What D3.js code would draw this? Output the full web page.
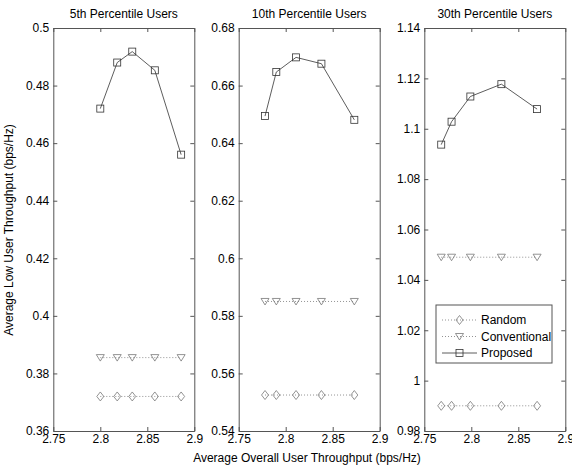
<!DOCTYPE html>
<html><head><meta charset="utf-8">
<script src="https://d3js.org/d3.v7.min.js"></script>
<style>body{margin:0;background:#fff}svg{display:block}text{font-family:"Liberation Sans",Arial,sans-serif}</style>
</head><body><svg id="c" width="572" height="469"></svg>
<script>
const titles = ["5th Percentile Users","10th Percentile Users","30th Percentile Users"];
const xTicks = [2.75,2.8,2.85,2.9];
const xTickLabels = ["2.75","2.8","2.85","2.9"];
const yDomains = [[0.36,0.5],[0.54,0.68],[0.98,1.14]];
const yTicks = [
  [0.36,0.38,0.4,0.42,0.44,0.46,0.48,0.5],
  [0.54,0.56,0.58,0.6,0.62,0.64,0.66,0.68],
  [0.98,1,1.02,1.04,1.06,1.08,1.1,1.12,1.14]
];
const xVals = [
  [2.800,2.818,2.834,2.858,2.886],
  [2.778,2.790,2.811,2.838,2.873],
  [2.768,2.779,2.799,2.832,2.870]
];
const randomVals = [
  [0.372,0.372,0.372,0.372,0.372],
  [0.5525,0.5525,0.5525,0.5525,0.5525],
  [0.990,0.990,0.990,0.990,0.990]
];
const conventionalVals = [
  [0.3855,0.3855,0.3855,0.3855,0.3855],
  [0.585,0.585,0.585,0.585,0.585],
  [1.049,1.049,1.049,1.049,1.049]
];
const proposedVals = [
  [0.472,0.488,0.4918,0.4853,0.456],
  [0.6494,0.6647,0.6698,0.6676,0.6481],
  [1.0937,1.1028,1.1128,1.1177,1.1078]
];
const seriesNames = ["Random","Conventional","Proposed"];

const svg = d3.select("#c");
const lefts = [53.3,238.7,424.3], W = 141, plotTop = 28, plotBottom = 431;

function marker(g, type, x, y, color){
  if(type==="diamond"){
    g.append("path").attr("d",`M${x},${y-4.5}L${x+3.5},${y}L${x},${y+4.5}L${x-3.5},${y}Z`)
     .attr("fill","none").attr("stroke",color).attr("stroke-width",0.8);
  } else if(type==="tri"){
    g.append("path").attr("d",`M${x-4},${y-3}L${x+4},${y-3}L${x},${y+3.5}Z`)
     .attr("fill","none").attr("stroke",color).attr("stroke-width",0.8);
  } else {
    g.append("rect").attr("x",x-3.5).attr("y",y-3.5).attr("width",7).attr("height",7)
     .attr("fill","none").attr("stroke",color).attr("stroke-width",0.8);
  }
}

for(let p=0;p<3;p++){
  const x = d3.scaleLinear().domain([2.75,2.9]).range([lefts[p],lefts[p]+W]);
  const y = d3.scaleLinear().domain(yDomains[p]).range([plotBottom,plotTop]);
  const g = svg.append("g");
  const ax = d3.axisBottom(x).tickValues(xTicks).tickFormat((d,i)=>xTickLabels[i]).tickSizeInner(-4).tickSizeOuter(0).tickPadding(3);
  const gx = g.append("g").attr("transform",`translate(0,${plotBottom})`).call(ax);
  const gxt = g.append("g").attr("transform",`translate(0,${plotTop})`).call(d3.axisTop(x).tickValues(xTicks).tickFormat("").tickSizeInner(-4).tickSizeOuter(0));
  const ay = d3.axisLeft(y).tickValues(yTicks[p]).tickFormat(d3.format("~g")).tickSizeInner(-4).tickSizeOuter(0).tickPadding(4);
  const gy = g.append("g").attr("transform",`translate(${lefts[p]},0)`).call(ay);
  const gyr = g.append("g").attr("transform",`translate(${lefts[p]+W},0)`).call(d3.axisRight(y).tickValues(yTicks[p]).tickFormat("").tickSizeInner(-4).tickSizeOuter(0));
  [gx,gxt,gy,gyr].forEach(a=>{
    a.selectAll(".domain").attr("stroke","#555").attr("stroke-width",1);
    a.selectAll(".tick line").attr("stroke","#555");
    a.selectAll(".tick text").attr("fill","#000").style("font-size","12px").style("font-family","'Liberation Sans',Arial,sans-serif");
  });
  g.append("text").attr("x",lefts[p]+W/2).attr("y",18).attr("text-anchor","middle")
   .style("font-size","12px").text(titles[p]);

  const line = d3.line().x(d=>x(d[0])).y(d=>y(d[1]));
  const mk = (vals)=>xVals[p].map((v,i)=>[v,vals[i]]);
  const sets = [
    {d:mk(randomVals[p]), type:"diamond", color:"#777", dash:"1,2"},
    {d:mk(conventionalVals[p]), type:"tri", color:"#777", dash:"1,2"},
    {d:mk(proposedVals[p]), type:"square", color:"#333", dash:null}
  ];
  sets.forEach(s=>{
    g.append("path").attr("d",line(s.d)).attr("fill","none").attr("stroke",s.color)
     .attr("stroke-width",0.8).attr("stroke-dasharray",s.dash);
    s.d.forEach(pt=>marker(g,s.type,x(pt[0]),y(pt[1]),s.color));
  });

  if(p===2){
    const lg = svg.append("g");
    lg.append("rect").attr("x",436).attr("y",305).attr("width",116).attr("height",58)
      .attr("fill","#fff").attr("stroke","#555").attr("stroke-width",1);
    sets.forEach((s,i)=>{
      const yy = 320 + i*16.5;
      lg.append("line").attr("x1",442).attr("x2",477).attr("y1",yy).attr("y2",yy)
        .attr("stroke",s.color).attr("stroke-width",0.8).attr("stroke-dasharray",s.dash);
      marker(lg,s.type,459.5,yy,s.color);
      lg.append("text").attr("x",481).attr("y",yy+4).style("font-size","12px").text(seriesNames[i]);
    });
  }
}
svg.append("text").attr("x",307).attr("y",462).attr("text-anchor","middle").style("font-size","12px")
  .text("Average Overall User Throughput (bps/Hz)");
svg.append("text").attr("transform","translate(13,230) rotate(-90)").attr("text-anchor","middle").style("font-size","12px")
  .text("Average Low User Throughput (bps/Hz)");
</script></body></html>
